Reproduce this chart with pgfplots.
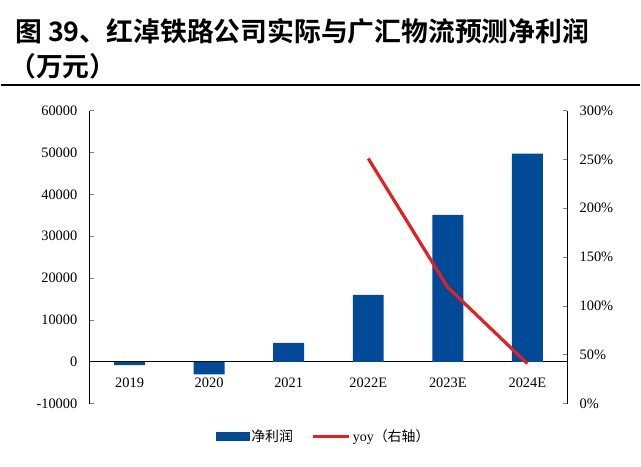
\documentclass[border=0pt]{standalone}
\usepackage{pgfplots}
\pgfplotsset{compat=1.18}
\usepackage{fontspec}
\setmainfont{Liberation Serif}
\newfontfamily\cjk{Noto Sans CJK SC}
\newfontfamily\cjkb{Noto Sans CJK SC Bold}
\definecolor{barblue}{RGB}{0,74,151}
\definecolor{linered}{RGB}{228,32,32}
\begin{document}
\begin{tikzpicture}[x=1bp,y=1bp]
\path (0,0) rectangle (641,-468);
\node[anchor=west,inner sep=0] at (14,-31) {\fontsize{27}{29}\selectfont\cjkb 图\ 39、红淖铁路公司实际与广汇物流预测净利润};
\node[anchor=west,inner sep=0] at (8,-67) {\fontsize{27}{29}\selectfont\cjkb （万元）};
\draw[line width=2.2bp] (0,-85) -- (641,-85);
\begin{axis}[
  at={(89bp,-405bp)}, anchor=south west,
  scale only axis, width=479bp, height=294bp,
  xmin=-0.5, xmax=5.5, ymin=-10000, ymax=60000,
  axis x line=middle, axis y line*=left,
  axis line style={-, line width=0.8bp},
  xtick={0,1,2,3,4,5},
  xticklabels={2019,2020,2021,2022E,2023E,2024E},
  x tick style={draw=none},
  ytick={-10000,0,10000,20000,30000,40000,50000,60000},
  y tick style={line width=0.8bp},
  major tick length=4bp,
  tick align=inside,
  scaled y ticks=false,
  y tick label style={/pgf/number format/1000 sep={}},
  /pgf/number format/assume math mode=true,
  tick label style={font=\fontsize{14.5}{16}\selectfont},
  xticklabel style={yshift=-13bp},
  yticklabel style={xshift=-9bp},
  clip=false,
]
\addplot[ybar, bar width=31bp, fill=barblue, draw=none]
  coordinates {(0,-800) (1,-3000) (2,4500) (3,16000) (4,35100) (5,49700)};
\end{axis}
\begin{axis}[
  at={(89bp,-405bp)}, anchor=south west,
  scale only axis, width=479bp, height=294bp,
  xmin=-0.5, xmax=5.5, ymin=0, ymax=3,
  axis x line=none, axis y line*=right,
  axis line style={-, line width=0.8bp},
  ytick={0,0.5,1,1.5,2,2.5,3},
  yticklabels={0\%,50\%,100\%,150\%,200\%,250\%,300\%},
  y tick style={line width=0.8bp},
  major tick length=4bp,
  tick align=inside,
  tick label style={font=\fontsize{14.5}{16}\selectfont},
  yticklabel style={xshift=9bp},
  clip=false,
  legend style={at={(0.49,-0.112)}, anchor=center, draw=none, fill=none,
    legend columns=2, font=\fontsize{14}{16}\selectfont,
    /tikz/every even column/.append style={column sep=16bp}},
]
\addlegendimage{legend image code/.code={\fill[barblue] (0bp,-4bp) rectangle (33bp,4bp);}}
\addlegendentry{\cjk 净利润}
\addplot[linered, line width=3.2bp, legend image code/.code={\draw[linered, line width=3.2bp] (0bp,0bp) -- (37bp,0bp);}]
  coordinates {(3,2.51) (4,1.19) (5,0.41)};
\addlegendentry{yoy{\cjk（右轴）}}
\end{axis}
\end{tikzpicture}
\end{document}
